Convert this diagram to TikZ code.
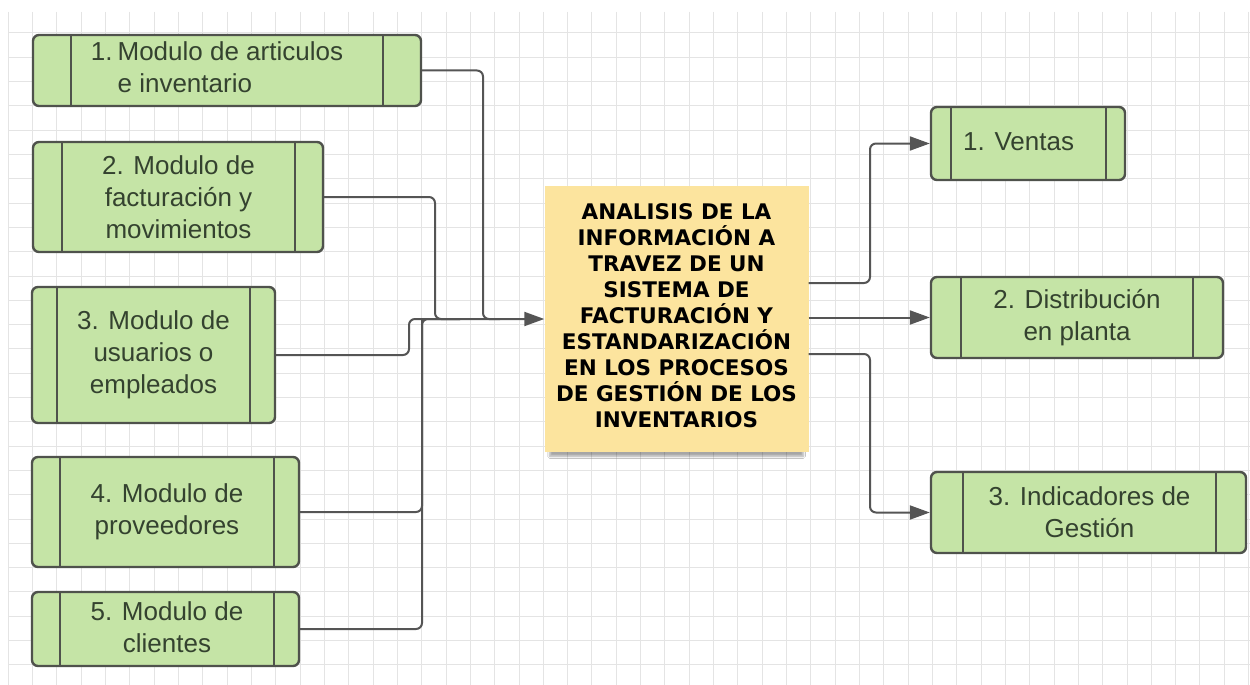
\documentclass[tikz,border=0pt]{standalone}
\usepackage{fontspec}
\setmainfont{Liberation Sans}
\newfontfamily\comicf{DejaVu Sans}
\usetikzlibrary{arrows.meta,shadows.blur}
\definecolor{gridc}{HTML}{E4E4E4}
\definecolor{boxfill}{HTML}{C5E4A6}
\definecolor{boxdraw}{HTML}{4F524C}
\definecolor{txtc}{HTML}{34422F}
\definecolor{notefill}{HTML}{FCE49E}
\definecolor{linec}{HTML}{555555}
\tikzset{
  mbox/.style={draw=boxdraw, fill=boxfill, line width=2.4pt, rounded corners=6pt, inner sep=0pt},
  divider/.style={draw=boxdraw, line width=2.4pt},
  mtext/.style={text=txtc, font=\fontsize{26}{32}\selectfont, align=center, inner sep=0pt},
  note/.style={fill=notefill, inner sep=0pt, minimum width=264pt, minimum height=266pt,
    blur shadow={shadow xshift=0pt, shadow yshift=-10pt, shadow opacity=35, shadow blur steps=6, shadow scale=0.96}},
  conn/.style={draw=linec, line width=2pt, rounded corners=6pt},
  arr/.style={-{Triangle[length=20pt,width=14pt]}},
  gridline/.style={draw=gridc, line width=1pt}
}
\begin{document}
\begin{tikzpicture}[x=1pt,y=-1pt]
\useasboundingbox (0,0) rectangle (1250,685);
\fill[white] (0,0) rectangle (1250,685);
% grid
\begin{scope}
\clip (8,12) rectangle (1250,685);
\foreach \i in {0,...,51} \draw[gridline] (8.3+24.32*\i,12) -- (8.3+24.32*\i,685);
\foreach \j in {1,...,28} \draw[gridline] (8,8.7+24.3*\j) -- (1250,8.7+24.3*\j);
\end{scope}

% left boxes
\node[mbox, minimum width=388pt, minimum height=71pt] (L1) at (227,70.5) {};
\draw[divider] (71,35) -- (71,106) (383,35) -- (383,106);
\node[mtext, align=left] (L1t) at (217,70.5) {\begin{tabular}{@{}l@{\hspace{5pt}}l@{}}1. & Modulo de articulos\\ & e inventario\end{tabular}};

\node[mbox, minimum width=290pt, minimum height=110pt] (L2) at (178,197) {};
\draw[divider] (62,142) -- (62,252) (295,142) -- (295,252);
\node[mtext] (L2t) at (178.5,197) {2. Modulo de\\facturación y\\movimientos};

\node[mbox, minimum width=243pt, minimum height=136pt] (L3) at (153.5,355) {};
\draw[divider] (57,287) -- (57,423) (250,287) -- (250,423);
\node[mtext] (L3t) at (153.5,355) {3. Modulo de\\usuarios o\\empleados};

\node[mbox, minimum width=267pt, minimum height=110pt] (L4) at (165.5,512) {};
\draw[divider] (60,457) -- (60,567) (274,457) -- (274,567);
\node[mtext] (L4t) at (167,512) {4. Modulo de\\proveedores};

\node[mbox, minimum width=267pt, minimum height=74pt] (L5) at (165.5,629) {};
\draw[divider] (60,592) -- (60,666) (274,592) -- (274,666);
\node[mtext] (L5t) at (167,627) {5. Modulo de\\clientes};

% center note
\node[note] (C) at (676.5,319) {};
\node[inner sep=0pt, align=center, font=\comicf\bfseries\fontsize{21.5}{26}\selectfont] (Ct) at (676.5,316)
 {ANALISIS DE LA\\INFORMACIÓN A\\TRAVEZ DE UN\\SISTEMA DE\\FACTURACIÓN Y\\ESTANDARIZACIÓN\\EN LOS PROCESOS\\DE GESTIÓN DE LOS\\INVENTARIOS};

% right boxes
\node[mbox, minimum width=194pt, minimum height=73pt] (R1) at (1028,143.5) {};
\draw[divider] (951,107) -- (951,180) (1106,107) -- (1106,180);
\node[mtext, anchor=west] (R1t) at (963,142) {1. Ventas};

\node[mbox, minimum width=292pt, minimum height=81pt] (R2) at (1077,317.5) {};
\draw[divider] (961,277) -- (961,358) (1193,277) -- (1193,358);
\node[mtext] (R2t) at (1077,317.5) {2. Distribución\\en planta};

\node[mbox, minimum width=315pt, minimum height=81pt] (R3) at (1088.5,512.5) {};
\draw[divider] (963,472) -- (963,553) (1216,472) -- (1216,553);
\node[mtext] (R3t) at (1089.5,512.5) {3. Indicadores de\\Gestión};

% left connectors
\coordinate (m1) at (483,319);
\coordinate (m2) at (435,319);
\coordinate (m3) at (409,319);
\coordinate (m4) at (422,319);
\draw[conn] (L2.east) -| (m2) -- (500,319);
\draw[conn] (L3.east) -| (m3) -- (460,319);
\draw[conn] (L4.east) -| (m4) -- (460,319);
\draw[conn] (L5.east) -| (m4);
\draw[conn, arr] (L1.east) -| (m1) -- (C.west);

% right connectors
\coordinate (k1) at (870,143.5);
\coordinate (k3) at (870,512.5);
\draw[conn, arr] ([yshift=36pt]C.east) -| (k1) -- (R1.west);
\draw[conn, arr] (C.east |- R2.west) -- (R2.west);
\draw[conn, arr] ([yshift=-35pt]C.east) -| (k3) -- (R3.west);
\end{tikzpicture}
\end{document}
